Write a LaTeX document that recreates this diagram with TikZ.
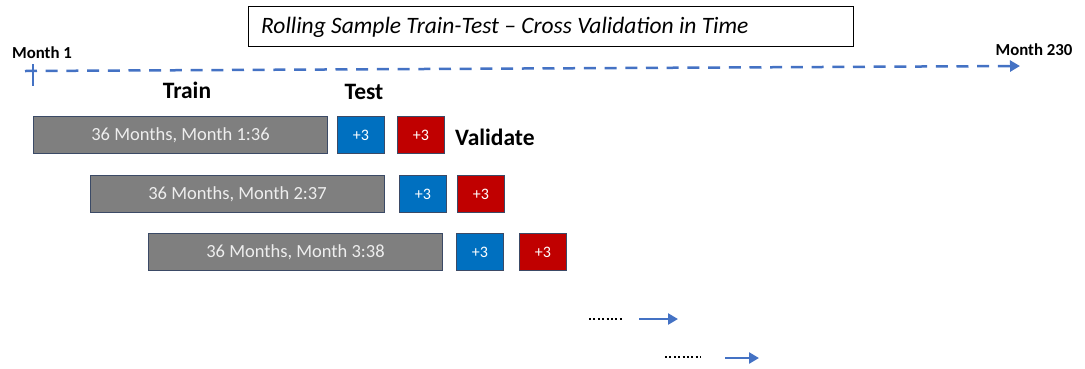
\documentclass[tikz,border=0pt]{standalone}
\usepackage{fontspec}
\setmainfont{Carlito}
\usetikzlibrary{arrows.meta}
\definecolor{tlblue}{RGB}{68,114,196}
\definecolor{trgray}{RGB}{127,127,127}
\definecolor{tsblue}{RGB}{0,112,192}
\definecolor{vdred}{RGB}{192,0,0}
\definecolor{edgecol}{RGB}{59,74,102}
\definecolor{txtlight}{RGB}{238,238,238}
\begin{document}
\begin{tikzpicture}[x=1pt,y=-1pt,
  box/.style={draw=edgecol, line width=1pt, inner sep=0pt, anchor=north west, minimum height=37pt},
  trainbox/.style={box, fill=trgray, minimum width=294pt, text=txtlight, font=\fontsize{18.5}{20}\selectfont},
  testbox/.style={box, fill=tsblue, minimum width=47pt, text=white, font=\fontsize{16}{18}\selectfont},
  valbox/.style={box, fill=vdred, minimum width=47pt, text=white, font=\fontsize{16}{18}\selectfont},
  biglbl/.style={font=\bfseries\fontsize{23.5}{26}\selectfont, inner sep=0pt},
  monthlbl/.style={font=\bfseries\fontsize{16.8}{19}\selectfont, inner sep=0pt},
  flowarrow/.style={draw=tlblue, line width=2.5pt, -{Triangle[length=10pt,width=11pt]}},
  dotrow/.style={draw=black, line width=2pt, dash pattern=on 2pt off 2.4pt},
]
\useasboundingbox (0,0) rectangle (1085,368);

% title
\node[draw=black, line width=1pt, minimum width=605pt, minimum height=40pt, anchor=north west, inner sep=0pt] (titlebox) at (248,6) {};
\node[anchor=west, inner sep=0pt, font=\itshape\fontsize{23.5}{26}\selectfont] (title) at (261,27) {Rolling Sample Train-Test -- Cross Validation in Time};

% timeline
\node[monthlbl] (m1) at (42,53) {Month 1};
\node[monthlbl] (m230) at (1034,50) {Month 230};
\coordinate (tstart) at (25,71);
\coordinate (tend) at (1020,66);
\coordinate (tickt) at (33,64);
\coordinate (tickb) at (33,86);
\draw[tlblue, line width=1.3pt] (tickt) -- (tickb);
\draw[flowarrow, dash pattern=on 12pt off 8.7pt] (tstart) -- (tend);

% labels
\node[biglbl] (train) at (187,90) {Train};
\node[biglbl] (test) at (364,92) {Test};
\node[biglbl, anchor=west] (validate) at (455,137) {Validate};

% row 1
\node[trainbox] (tr1) at (33,116) {36 Months, Month 1:36};
\node[testbox] (ts1) at (337,116) {+3};
\node[valbox] (vd1) at (397,116) {+3};
% row 2
\node[trainbox] (tr2) at (90,175) {36 Months, Month 2:37};
\node[testbox] (ts2) at (399,175) {+3};
\node[valbox] (vd2) at (457,175) {+3};
% row 3
\node[trainbox] (tr3) at (148,233) {36 Months, Month 3:38};
\node[testbox] (ts3) at (456,233) {+3};
\node[valbox] (vd3) at (519,233) {+3};

% continuation
\coordinate (d1a) at (589,319);
\coordinate (d1b) at (623,319);
\coordinate (a1a) at (639,319);
\coordinate (a1b) at (678,319);
\coordinate (d2a) at (665,357);
\coordinate (d2b) at (701,357);
\coordinate (a2a) at (725,358);
\coordinate (a2b) at (759,358);
\draw[dotrow] (d1a) -- (d1b);
\draw[flowarrow] (a1a) -- (a1b);
\draw[dotrow] (d2a) -- (d2b);
\draw[flowarrow] (a2a) -- (a2b);
\end{tikzpicture}
\end{document}
